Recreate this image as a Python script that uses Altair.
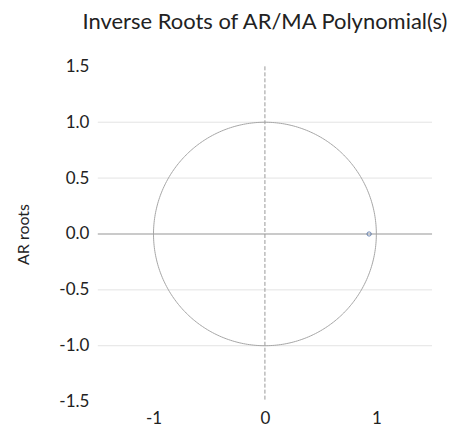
import altair as alt
import numpy as np
import pandas as pd

# Inverse AR root(s)
root_re = [0.935]
root_im = [0.0]

# Axis ticks
x_ticks = [-1, 0, 1]
y_ticks = [-1.5, -1.0, -0.5, 0.0, 0.5, 1.0, 1.5]
grid_vals = [-1.0, -0.5, 0.5, 1.0]

# Unit circle reference
ang = np.linspace(0, 2 * np.pi, 361)
circle = pd.DataFrame({"x": np.cos(ang), "y": np.sin(ang), "o": np.arange(len(ang))})

roots = pd.DataFrame({"x": root_re, "y": root_im})
grid = pd.DataFrame({"y": grid_vals})

FONT = "Lato"
xs = alt.Scale(domain=[-1.5, 1.5], nice=False, zero=False)
ys = alt.Scale(domain=[-1.5, 1.5], nice=False, zero=False)

xaxis = alt.Axis(values=x_ticks, grid=False, domain=False, ticks=False, labelPadding=9,
                 labelFontSize=17, labelColor="#222", labelFont=FONT,
                 labelExpr="replace(format(datum.value, 'd'), '\u2212', '-')", title=None)
yaxis = alt.Axis(values=y_ticks, grid=False, domain=False, ticks=False, labelPadding=9,
                 labelFontSize=17, labelColor="#222", labelFont=FONT,
                 labelExpr="replace(format(datum.value, '.1f'), '\u2212', '-')",
                 title="AR roots", titleFont=FONT, titleFontSize=16, titleFontWeight="normal",
                 titleColor="#222", titlePadding=27)

gridl = alt.Chart(grid).mark_rule(color="#e3e3e3", strokeWidth=1).encode(
    y=alt.Y("y:Q", scale=ys, axis=yaxis)
)
hline = alt.Chart(pd.DataFrame({"y": [0.0]})).mark_rule(color="#b8b8b8", strokeWidth=1.5).encode(
    y=alt.Y("y:Q", scale=ys)
)
vline = alt.Chart(pd.DataFrame({"x": [0.0]})).mark_rule(color="#999", strokeWidth=1, strokeDash=[4, 2]).encode(
    x=alt.X("x:Q", scale=xs, axis=xaxis)
)
circ = alt.Chart(circle).mark_line(color="#a6a6a6", strokeWidth=1).encode(
    x=alt.X("x:Q", scale=xs), y=alt.Y("y:Q", scale=ys), order="o:Q"
)
pts = alt.Chart(roots).mark_point(shape="circle", size=18, filled=False, color="#2f5597", strokeWidth=1).encode(
    x=alt.X("x:Q", scale=xs), y=alt.Y("y:Q", scale=ys)
)

chart = alt.layer(gridl, hline, vline, circ, pts).properties(
    width=335, height=336,
    title=alt.TitleParams("Inverse Roots of AR/MA Polynomial(s)", font=FONT, fontSize=22,
                          fontWeight="normal", color="#222", offset=23, anchor="middle"),
    autosize=alt.AutoSizeParams(type="none"),
    padding={"left": 90, "top": 58, "right": 20, "bottom": 40},
).configure_view(stroke=None)

chart.save("out.html", embed_options={"renderer": "svg", "actions": False})
